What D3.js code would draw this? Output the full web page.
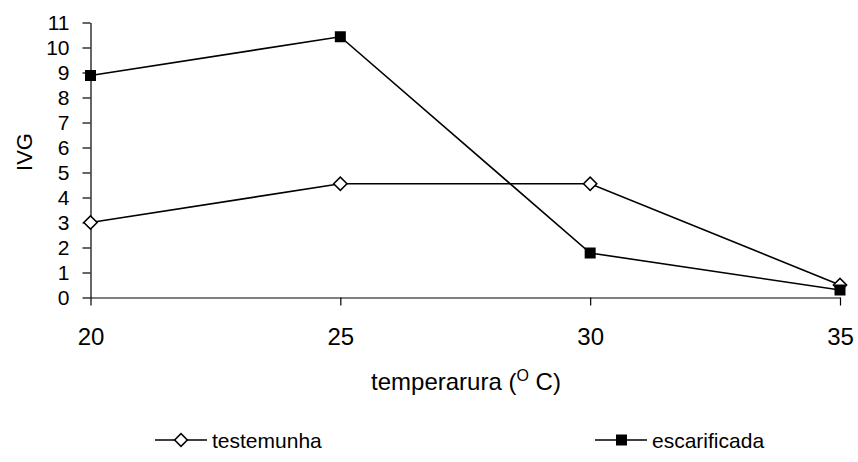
<!DOCTYPE html>
<html>
<head>
<meta charset="utf-8">
<script src="https://cdn.jsdelivr.net/npm/d3@7"></script>
<style>
  body { margin: 0; background: #fff; }
  svg text { font-family: "Liberation Sans", Arial, sans-serif; fill: #000; }
</style>
</head>
<body>
<svg id="chart" width="858" height="462"></svg>
<script>
// data
var temperaturas = [20, 25, 30, 35];
var testemunha = [3.0, 4.55, 4.55, 0.5];
var escarificada = [8.88, 10.43, 1.78, 0.3];
var yTicks = [0, 1, 2, 3, 4, 5, 6, 7, 8, 9, 10, 11];

var svg = d3.select("#chart");

var x = d3.scaleLinear().domain([20, 35]).range([90.5, 840]);
var y = d3.scaleLinear().domain([0, 11]).range([297.5, 22.5]);

// x axis
var xAxis = svg.append("g")
  .attr("transform", "translate(0," + y(0) + ")")
  .call(d3.axisBottom(x).tickValues(temperaturas).tickSize(8).tickSizeOuter(0).tickPadding(22));
xAxis.selectAll("text").attr("font-size", 24);

// y axis
var yAxis = svg.append("g")
  .attr("transform", "translate(" + x(20) + ",0)")
  .call(d3.axisLeft(y).tickValues(yTicks).tickSize(8).tickSizeOuter(0).tickPadding(13));
yAxis.selectAll("text").attr("font-size", 21);

svg.selectAll(".domain, .tick line").attr("stroke", "#000").attr("stroke-width", 1.2);

// axis titles
svg.append("text")
  .attr("transform", "translate(32,152) rotate(-90)")
  .attr("text-anchor", "middle")
  .attr("font-size", 22)
  .text("IVG");

var xt = svg.append("text")
  .attr("x", 466).attr("y", 390)
  .attr("text-anchor", "middle")
  .attr("font-size", 24);
xt.append("tspan").text("temperarura (");
xt.append("tspan").attr("font-size", 16).attr("dy", -9).text("O");
xt.append("tspan").attr("dy", 9).text(" C)");

var line = d3.line()
  .x(function (d, i) { return x(temperaturas[i]); })
  .y(function (d) { return y(d); });

function drawLine(vals) {
  svg.append("path")
    .attr("d", line(vals))
    .attr("fill", "none")
    .attr("stroke", "#000")
    .attr("stroke-width", 1.6);
}

drawLine(testemunha);
drawLine(escarificada);

// diamonds drawn as rotated squares
svg.selectAll(".dia")
  .data(testemunha)
  .enter()
  .append("rect")
  .attr("class", "dia")
  .attr("x", -4.7).attr("y", -4.7).attr("width", 9.4).attr("height", 9.4)
  .attr("transform", function (d, i) {
    return "translate(" + x(temperaturas[i]) + "," + y(d) + ") rotate(45)";
  })
  .attr("fill", "#fff")
  .attr("stroke", "#000")
  .attr("stroke-width", 1.5);

svg.selectAll(".sq")
  .data(escarificada)
  .enter()
  .append("path")
  .attr("class", "sq")
  .attr("d", d3.symbol().type(d3.symbolSquare).size(121))
  .attr("transform", function (d, i) {
    return "translate(" + x(temperaturas[i]) + "," + y(d) + ")";
  })
  .attr("fill", "#000");

// legend
var legend = [
  { name: "testemunha", x: 155, kind: "diamond" },
  { name: "escarificada", x: 595, kind: "square" }
];
var ly = 440;
legend.forEach(function (l) {
  svg.append("line")
    .attr("x1", l.x).attr("x2", l.x + 52)
    .attr("y1", ly).attr("y2", ly)
    .attr("stroke", "#000").attr("stroke-width", 1.5);
  if (l.kind === "diamond") {
    svg.append("rect")
      .attr("x", -4.5).attr("y", -4.5).attr("width", 9).attr("height", 9)
      .attr("transform", "translate(" + (l.x + 26) + "," + ly + ") rotate(45)")
      .attr("fill", "#fff").attr("stroke", "#000").attr("stroke-width", 1.5);
  } else {
    svg.append("rect")
      .attr("x", l.x + 21).attr("y", ly - 5.5).attr("width", 11).attr("height", 11)
      .attr("fill", "#000");
  }
  svg.append("text")
    .attr("x", l.x + 57).attr("y", ly + 8)
    .attr("font-size", 21)
    .text(l.name);
});
</script>
</body>
</html>
